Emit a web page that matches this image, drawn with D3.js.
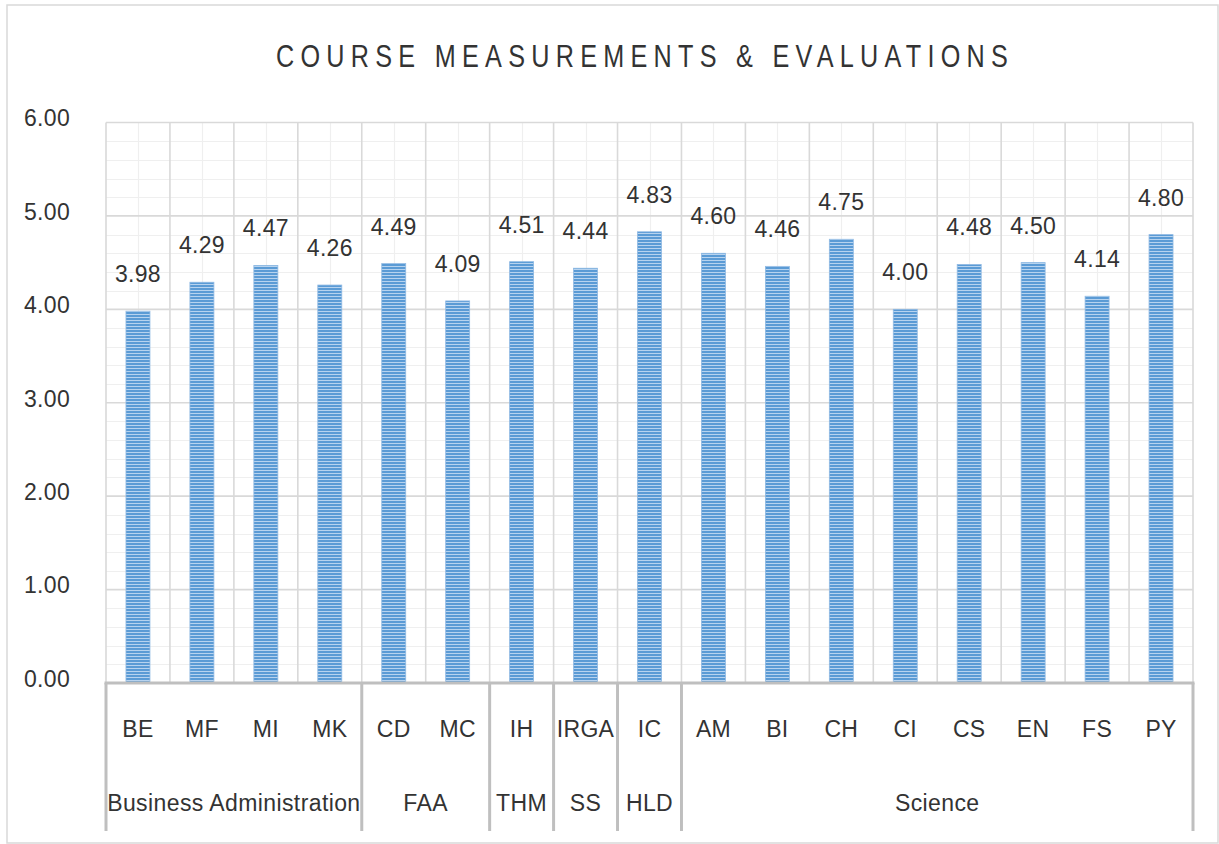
<!DOCTYPE html>
<html><head><meta charset="utf-8">
<script src="https://cdn.jsdelivr.net/npm/d3@7"></script>
<style>
html,body{margin:0;padding:0;background:#fff;}
svg{display:block;}
text{font-family:"Liberation Sans",Arial,sans-serif;fill:#333;}
</style></head>
<body>
<svg id="chart" width="1219" height="844"></svg>
<script>
const title = "COURSE MEASUREMENTS & EVALUATIONS";
const categories = ["BE","MF","MI","MK","CD","MC","IH","IRGA","IC","AM","BI","CH","CI","CS","EN","FS","PY"];
const groupOf = ["Business Administration","Business Administration","Business Administration","Business Administration","FAA","FAA","THM","SS","HLD","Science","Science","Science","Science","Science","Science","Science","Science"];
const values = [3.98,4.29,4.47,4.26,4.49,4.09,4.51,4.44,4.83,4.60,4.46,4.75,4.00,4.48,4.50,4.14,4.80];
const yTicks = [0,1,2,3,4,5,6];

const svg = d3.select("#chart");
const plot = {left:106, right:1193, top:122.5, bottom:683};

// frame
svg.append("rect").attr("x",7).attr("y",5).attr("width",1211).attr("height",838)
  .attr("fill","#fff").attr("stroke","#d9d9d9").attr("stroke-width",1.5);

// pattern
const defs = svg.append("defs");
const pat = defs.append("pattern").attr("id","stripes").attr("patternUnits","userSpaceOnUse")
  .attr("width",4).attr("height",3);
pat.append("rect").attr("width",4).attr("height",3).attr("fill","#5b9bd5");
pat.append("rect").attr("y",2).attr("width",4).attr("height",1).attr("fill","#b7d3ef");

const x = d3.scaleBand().domain(categories).range([plot.left, plot.right]).padding(0);
const y = d3.scaleLinear().domain([0,6]).range([plot.bottom, plot.top]);

const g = svg.append("g");
// minor horizontal grid
g.append("g").selectAll("line").data(d3.range(0,30).map(i=>i*0.2).filter(v=>Math.abs(v-Math.round(v))>1e-6))
  .join("line").attr("x1",plot.left).attr("x2",plot.right)
  .attr("y1",d=>Math.round(y(d))+0.5).attr("y2",d=>Math.round(y(d))+0.5)
  .attr("stroke","#efefef").attr("stroke-width",1.2);
// minor vertical grid at band centres
g.append("g").selectAll("line").data(categories).join("line")
  .attr("x1",d=>Math.round(x(d)+x.bandwidth()/2)+0.5).attr("x2",d=>Math.round(x(d)+x.bandwidth()/2)+0.5)
  .attr("y1",plot.top).attr("y2",plot.bottom).attr("stroke","#efefef").attr("stroke-width",1.2);
// major horizontal grid
g.append("g").selectAll("line").data(yTicks.filter(d=>d>0)).join("line")
  .attr("x1",plot.left).attr("x2",plot.right)
  .attr("y1",d=>y(d)).attr("y2",d=>y(d)).attr("stroke","#d9d9d9").attr("stroke-width",1.6);
// major vertical grid at band edges
g.append("g").selectAll("line").data(categories.concat(["__end"])).join("line")
  .attr("x1",(d,i)=>i<categories.length?x(d):plot.right).attr("x2",(d,i)=>i<categories.length?x(d):plot.right)
  .attr("y1",plot.top).attr("y2",plot.bottom).attr("stroke","#d9d9d9").attr("stroke-width",1.6);

// bars
const bw = x.bandwidth()*0.375;
svg.append("g").selectAll("rect").data(values).join("rect")
  .attr("x",(d,i)=>x(categories[i])+x.bandwidth()/2-bw/2)
  .attr("y",d=>y(d)).attr("width",bw).attr("height",d=>plot.bottom-y(d))
  .attr("fill","url(#stripes)").attr("stroke","#8fb9e3").attr("stroke-width",0.8);

// data labels
svg.append("g").selectAll("text").data(values).join("text")
  .attr("x",(d,i)=>x(categories[i])+x.bandwidth()/2)
  .attr("y",d=>y(d)-29).attr("text-anchor","middle")
  .style("font-size","23px").style("letter-spacing","0.3px").text(d=>d.toFixed(2));

// y axis labels
const yAxis = d3.axisLeft(y).tickValues(yTicks).tickFormat(d3.format(".2f")).tickSize(0).tickPadding(0);
const ya = svg.append("g").attr("transform",`translate(70,-4)`).call(yAxis);
ya.select(".domain").remove();
ya.selectAll("text").style("font-size","23px").style("letter-spacing","0.3px")
  .style("font-family","Liberation Sans, Arial, sans-serif").attr("fill","#333");

// x axis line
svg.append("line").attr("x1",plot.left-1.5).attr("x2",plot.right+1.5).attr("y1",plot.bottom).attr("y2",plot.bottom)
  .attr("stroke","#bfbfbf").attr("stroke-width",3);

// category labels
svg.append("g").selectAll("text").data(categories).join("text")
  .attr("x",d=>x(d)+x.bandwidth()/2).attr("y",737).attr("text-anchor","middle")
  .style("font-size","23px").style("letter-spacing","0.3px").text(d=>d);

// groups
const groups = [];
groupOf.forEach((gname,i)=>{
  if(!groups.length || groups[groups.length-1].name!==gname) groups.push({name:gname,start:i,end:i});
  else groups[groups.length-1].end=i;
});
const bounds = [plot.left].concat(groups.map(gr=>x(categories[gr.end])+x.bandwidth()));
svg.append("g").selectAll("line").data(bounds).join("line")
  .attr("x1",d=>d).attr("x2",d=>d).attr("y1",plot.bottom).attr("y2",831)
  .attr("stroke","#bfbfbf").attr("stroke-width",3);
svg.append("g").selectAll("text").data(groups).join("text")
  .attr("x",gr=>(x(categories[gr.start])+x(categories[gr.end])+x.bandwidth())/2)
  .attr("y",811).attr("text-anchor","middle").style("font-size","23px").style("letter-spacing","0.4px")
  .text(gr=>gr.name);

// title
const t = svg.append("text").attr("y",67).style("font-size","31.5px").attr("fill","#222").text(title);
const sx = 0.8, targetW = 732, left = 276;
const w0 = t.node().getComputedTextLength();
const ls = (targetW/sx - w0)/(title.length-1);
t.style("letter-spacing", ls+"px");
t.attr("transform",`translate(${left},0) scale(${sx},1)`).attr("x",0);
</script>
</body></html>
